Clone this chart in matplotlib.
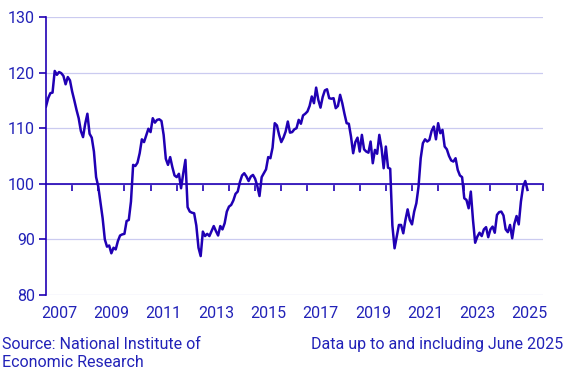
import numpy as np
import matplotlib
matplotlib.use('Agg')
import matplotlib.pyplot as plt

plt.rcParams['font.family'] = ['Roboto', 'DejaVu Sans']

# Månadsvärden jan 2007 - jun 2025
V2007 = [113.9, 115.4, 116.3, 116.4, 120.3, 119.6, 120.1, 119.9, 119.4, 117.9, 119.2, 118.6]
V2008 = [116.6, 115.0, 113.3, 111.8, 109.5, 108.4, 110.8, 112.6, 109.0, 108.3, 105.8, 101.2]
V2009 = [99.5, 96.6, 93.8, 90.0, 88.7, 88.9, 87.5, 88.5, 88.2, 89.7, 90.7, 90.9]
V2010 = [91.0, 93.3, 93.5, 96.8, 103.4, 103.2, 103.8, 105.5, 108.0, 107.5, 108.7, 109.9]
V2011 = [109.3, 111.8, 111.0, 111.5, 111.6, 111.3, 108.8, 104.5, 103.4, 104.8, 103.0, 101.5]
V2012 = [101.2, 101.8, 99.2, 101.9, 104.3, 95.8, 95.0, 94.8, 94.7, 92.5, 88.5, 87.0]
V2013 = [91.4, 90.6, 91.0, 90.6, 91.5, 92.4, 91.5, 90.7, 92.4, 91.8, 92.9, 95.0]
V2014 = [95.9, 96.2, 97.0, 98.2, 98.6, 100.3, 101.5, 101.9, 101.3, 100.5, 101.3, 101.6]
V2015 = [100.9, 99.6, 97.8, 101.2, 101.9, 102.6, 104.8, 104.6, 106.5, 110.9, 110.5, 108.8]
V2016 = [107.5, 108.3, 109.4, 111.2, 109.2, 109.3, 109.8, 110.0, 111.5, 110.8, 112.3, 112.6]
V2017 = [113.0, 114.0, 115.7, 114.5, 117.3, 115.1, 113.7, 115.6, 116.8, 117.0, 115.4, 115.3]
V2018 = [115.4, 113.6, 114.0, 116.0, 114.5, 112.6, 110.9, 110.8, 108.5, 105.5, 107.5, 108.3]
V2019 = [105.8, 108.8, 106.2, 105.8, 105.6, 107.6, 103.7, 106.1, 105.4, 108.8, 106.5, 102.8]
V2020 = [106.7, 102.9, 102.7, 92.5, 88.4, 90.5, 92.6, 92.6, 91.1, 93.5, 95.4, 93.5]
V2021 = [92.7, 95.0, 96.5, 99.5, 104.6, 107.3, 108.0, 107.6, 107.9, 109.5, 110.3, 108.0]
V2022 = [110.9, 109.1, 109.7, 106.7, 106.2, 105.0, 104.2, 104.0, 104.6, 102.5, 101.5, 101.2]
V2023 = [97.4, 97.1, 95.6, 98.6, 93.5, 89.4, 90.5, 91.2, 90.6, 91.8, 92.2, 90.4]
V2024 = [91.8, 92.3, 91.2, 94.4, 94.9, 95.0, 94.3, 91.8, 91.3, 92.6, 90.2, 92.8]
V2025 = [94.2, 92.7, 96.8, 99.5, 100.5, 98.9]

VALUES = (V2007 + V2008 + V2009 + V2010 + V2011 + V2012 + V2013 + V2014 + V2015
          + V2016 + V2017 + V2018 + V2019 + V2020 + V2021 + V2022 + V2023 + V2024 + V2025)
START_YEAR = 2007
YEAR_LABELS = [2007, 2009, 2011, 2013, 2015, 2017, 2019, 2021, 2023, 2025]

LINE = '#2000b4'
TEXT = '#2222b8'
GRID = '#cbcbf0'

t = START_YEAR + np.arange(len(VALUES)) / 12

fig = plt.figure(figsize=(5.68, 3.78), dpi=100)
ax = fig.add_axes([46/568, 1 - 295/378, (542.7 - 46)/568, (295 - 17)/378])

ax.plot(t, VALUES, color=LINE, lw=1.8, zorder=3)

ax.set_xlim(2007, 2026)
ax.set_ylim(80, 130)
ax.set_yticks(range(80, 131, 10))
ax.yaxis.grid(True, color=GRID, lw=0.9)
ax.set_axisbelow(True)

for s in ['top', 'right']:
    ax.spines[s].set_visible(False)
ax.spines['left'].set_color(LINE)
ax.spines['left'].set_linewidth(1.2)
ax.spines['bottom'].set_position(('data', 100))
ax.spines['bottom'].set_color(LINE)
ax.spines['bottom'].set_linewidth(1.2)

ax.set_xticks(range(2008, 2027))
ax.set_xticklabels([])
ax.tick_params(axis='x', length=5, width=1.2, color=LINE)
ax.tick_params(axis='y', length=5, width=1.2, color=LINE, labelcolor=TEXT,
               labelsize=11.5, pad=3)

for y in YEAR_LABELS:
    ax.text(y + 0.5, -0.066, str(y), transform=ax.get_xaxis_transform(),
            ha='center', va='center', color=TEXT, fontsize=11.5)

fig.text(2/568, 1 - 337/378, 'Source: National Institute of\nEconomic Research',
         ha='left', va='top', color=TEXT, fontsize=11.5, linespacing=1.25)
fig.text(563/568, 1 - 337/378, 'Data up to and including June 2025',
         ha='right', va='top', color=TEXT, fontsize=11.5)

fig.savefig('out.png', dpi=100)
